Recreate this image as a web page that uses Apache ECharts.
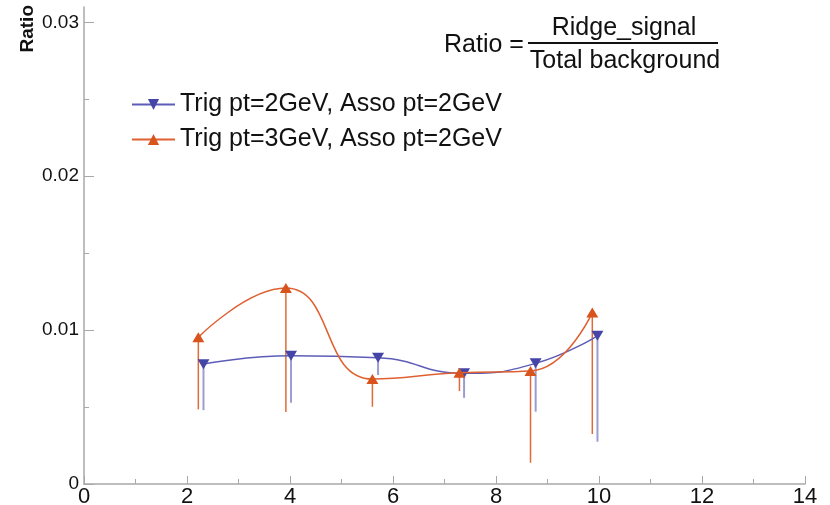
<!DOCTYPE html>
<html>
<head>
    <meta charset="utf-8">
    <title>Ratio</title>
    <script src="https://cdn.jsdelivr.net/npm/echarts@6/dist/echarts.min.js"></script>
    <style>
        html, body { margin: 0; padding: 0; background: #fff; }
        #main { width: 830px; height: 505px; }
    </style>
</head>
<body>
    <div id="main"></div>
    <script>
        // data
        var names = ['Trig pt=2GeV, Asso pt=2GeV', 'Trig pt=3GeV, Asso pt=2GeV'];
        var blueX = [2.32, 4.02, 5.71, 7.38, 8.77, 9.97];
        var blueY = [0.00779, 0.00833, 0.0082, 0.00719, 0.00784, 0.00963];
        var blueLow = [0.0048, 0.00528, 0.00708, 0.0056, 0.0047, 0.00275];
        var orangeX = [2.22, 3.92, 5.60, 7.29, 8.67, 9.87];
        var orangeY = [0.00953, 0.01273, 0.00682, 0.00723, 0.00734, 0.01115];
        var orangeLow = [0.00485, 0.00468, 0.00502, 0.00604, 0.00138, 0.00325];
        var yMajor = [0, 0.01, 0.02, 0.03];
        var yMinor = [0.005, 0.015, 0.025];

        var blue = '#4545a8';
        var orange = '#d9531c';
        var axisGray = '#a8a8a8';

        function pts(xs, ys) {
            return xs.map(function (x, i) { return [x, ys[i]]; });
        }
        function bars(xs, ys, lows) {
            return xs.map(function (x, i) { return [x, ys[i], lows[i]]; });
        }
        // vertical line from the point down to its lower error
        function errBar(color, width) {
            return function (params, api) {
                var top = api.coord([api.value(0), api.value(1)]);
                var bot = api.coord([api.value(0), api.value(2)]);
                return {
                    type: 'line',
                    shape: { x1: top[0], y1: top[1], x2: bot[0], y2: bot[1] },
                    style: { stroke: color, lineWidth: width }
                };
            };
        }

        var myChart = echarts.init(document.getElementById('main'));
        var option = {
            animation: false,
            textStyle: { fontFamily: 'Liberation Sans' },
            grid: { left: 84, right: 25, top: 7, bottom: 21, outerBoundsMode: 'none' },
            xAxis: {
                type: 'value', min: 0, max: 14, interval: 2,
                axisLine: { lineStyle: { color: axisGray, width: 1.5 } },
                axisTick: { inside: true, length: 8, lineStyle: { color: axisGray } },
                minorTick: { show: true, splitNumber: 2, length: 5, lineStyle: { color: axisGray } },
                splitLine: { show: false },
                axisLabel: { margin: 2, color: '#111', fontSize: 22 }
            },
            yAxis: [{
                type: 'value', min: 0, max: 0.031, position: 'left',
                axisLine: { show: true, lineStyle: { color: axisGray, width: 1.5 } },
                axisTick: { inside: true, length: 10, customValues: yMajor, lineStyle: { color: axisGray } },
                splitLine: { show: false },
                axisLabel: {
                    customValues: yMajor, margin: 5, color: '#111', fontSize: 19,
                    formatter: function (v) { return String(v); }
                }
            }, {
                type: 'value', min: 0, max: 0.031, position: 'left',
                axisLine: { show: false },
                axisTick: { inside: true, length: 5, customValues: yMinor, lineStyle: { color: axisGray } },
                splitLine: { show: false },
                axisLabel: { show: false }
            }],
            legend: {
                data: names,
                orient: 'vertical',
                left: 131, top: 92, padding: 0,
                itemWidth: 43, itemHeight: 14, itemGap: 10,
                textStyle: { fontSize: 25, color: '#111' }
            },
            graphic: [
                { type: 'text', left: 18, top: 5, rotation: Math.PI / 2,
                  style: { text: 'Ratio', font: 'bold 19px "Liberation Sans"', fill: '#111' } },
                { type: 'text', x: 444, y: 45,
                  style: { text: 'Ratio =', font: '25px "Liberation Sans"', fill: '#111', verticalAlign: 'middle' } },
                { type: 'line', shape: { x1: 528, y1: 43, x2: 718, y2: 43 },
                  style: { stroke: '#111', lineWidth: 2 } },
                { type: 'text', x: 624, y: 41,
                  style: { text: 'Ridge_signal', font: '25px "Liberation Sans"', fill: '#111', align: 'center', verticalAlign: 'bottom' } },
                { type: 'text', x: 625, y: 49,
                  style: { text: 'Total background', font: '25px "Liberation Sans"', fill: '#111', align: 'center', verticalAlign: 'top' } }
            ],
            series: [
                {
                    name: 'blueErr', type: 'custom', z: 1,
                    renderItem: errBar('#9c9cd4', 2),
                    data: bars(blueX, blueY, blueLow)
                },
                {
                    name: 'orangeErr', type: 'custom', z: 1,
                    renderItem: errBar('#e06a38', 1.5),
                    data: bars(orangeX, orangeY, orangeLow)
                },
                {
                    name: names[0], type: 'line', smooth: 0.5, z: 3,
                    data: pts(blueX, blueY),
                    symbol: 'triangle', symbolRotate: 180, symbolSize: [12, 10],
                    itemStyle: { color: blue },
                    lineStyle: { color: '#5d5db8', width: 1.5 }
                },
                {
                    name: names[1], type: 'line', smooth: 0.5, z: 4,
                    data: pts(orangeX, orangeY),
                    symbol: 'triangle', symbolSize: [12, 10],
                    itemStyle: { color: orange },
                    lineStyle: { color: '#df6030', width: 1.5 }
                }
            ]
        };
        myChart.setOption(option);
    </script>
</body>
</html>
